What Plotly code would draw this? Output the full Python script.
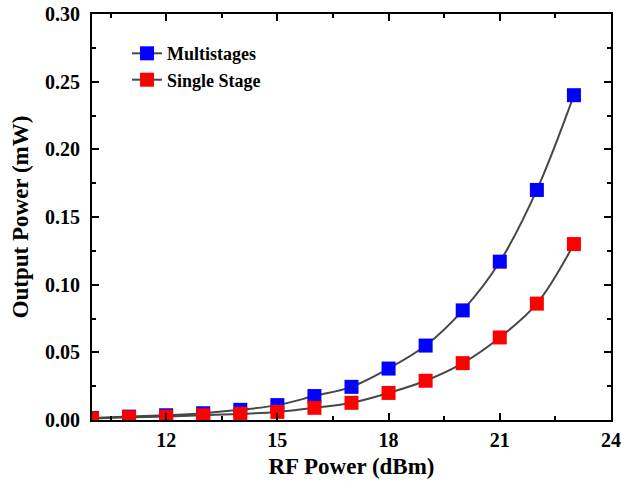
import plotly.graph_objects as go

rf_power = [10, 11, 12, 13, 14, 15, 16, 17, 18, 19, 20, 21, 22, 23]
multistages = [0.0015, 0.0025, 0.0035, 0.005, 0.0075, 0.011, 0.0177, 0.0245, 0.038, 0.055, 0.081, 0.117, 0.170, 0.240]
single_stage = [0.0012, 0.002, 0.0025, 0.0035, 0.0045, 0.006, 0.009, 0.0127, 0.020, 0.029, 0.042, 0.061, 0.086, 0.130]

font_family = "Liberation Serif"

fig = go.Figure()
fig.add_trace(go.Scatter(
    x=rf_power, y=multistages, name="<b>Multistages</b>", mode="lines+markers",
    line=dict(color="#474747", width=2, shape="spline"),
    marker=dict(symbol="square", size=14, color="#0000ff"),
))
fig.add_trace(go.Scatter(
    x=rf_power, y=single_stage, name="<b>Single Stage</b>", mode="lines+markers",
    line=dict(color="#474747", width=2, shape="spline"),
    marker=dict(symbol="square", size=14, color="#ff0000"),
))

axis_common = dict(
    showline=True, linecolor="black", linewidth=2, mirror="ticks",
    ticks="inside", ticklen=7, tickwidth=2, tickcolor="black",
    showgrid=False, zeroline=False, automargin=False,
    ticklabeloverflow="allow",
    tickfont=dict(family=font_family, size=20, color="black", weight="bold"),
)

fig.update_xaxes(
    range=[10, 24], dtick=3, tick0=0, ticklabelstandoff=1,
    minor=dict(ticks="inside", dtick=1.5, tick0=0, ticklen=4, tickwidth=2, tickcolor="black"),
    title=dict(text="<b>RF Power (dBm)</b>", font=dict(family=font_family, size=23, color="black"), standoff=8),
    **axis_common,
)
fig.update_yaxes(
    range=[0, 0.30], dtick=0.05, tickformat=".2f", ticklabelstandoff=6,
    minor=dict(ticks="inside", dtick=0.025, ticklen=4, tickwidth=2, tickcolor="black"),
    title=dict(text="<b>Output Power (mW)</b>", font=dict(family=font_family, size=23, color="black"), standoff=10),
    **axis_common,
)

fig.update_layout(
    width=621, height=483,
    margin=dict(l=92, r=10, t=14, b=63),
    plot_bgcolor="white", paper_bgcolor="white",
    showlegend=True,
    legend=dict(
        x=0.0675, y=0.948, xanchor="left", yanchor="top",
        font=dict(family=font_family, size=18, color="black"),
        bgcolor="rgba(0,0,0,0)", itemwidth=30, tracegroupgap=0,
    ),
)

fig.write_html(
    "out.html",
    config={"displayModeBar": False},
    post_script="document.body.style.margin='0';document.body.style.overflow='hidden';",
)
